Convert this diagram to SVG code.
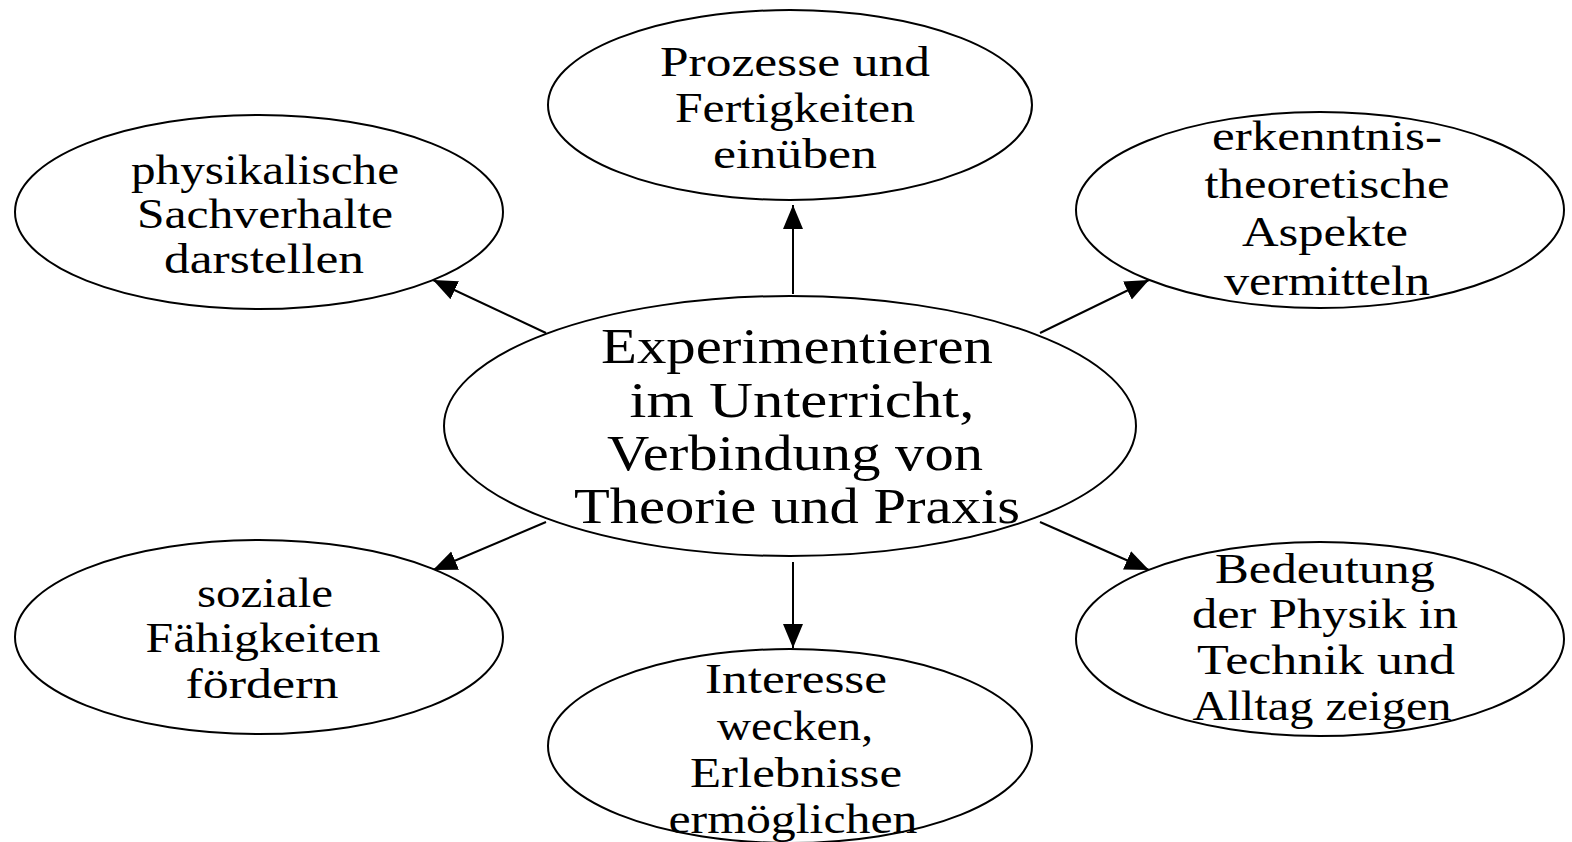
<svg xmlns="http://www.w3.org/2000/svg" width="1572" height="842" viewBox="0 0 1572 842">
<style>
.n ellipse{fill:#fff;stroke:#000;stroke-width:2}
.t{font-family:"Liberation Serif","Times New Roman",serif;font-size:42px;fill:#000;text-anchor:middle}
.c{font-size:50px}
.e line{stroke:#000;stroke-width:2;marker-end:url(#ah)}
</style>
<defs>
<marker id="ah" markerUnits="userSpaceOnUse" markerWidth="26" markerHeight="22" refX="24" refY="10" orient="auto" viewBox="0 0 26 20">
<path d="M0,0 L24,10 L0,20 Z" fill="#000"/>
</marker>
</defs>
<g id="edges" class="e">
<line x1="793" y1="294" x2="793" y2="205"/>
<line x1="546" y1="333" x2="433" y2="280"/>
<line x1="1040" y1="333" x2="1149" y2="280"/>
<line x1="546" y1="522" x2="433" y2="570"/>
<line x1="1040" y1="522" x2="1149" y2="570"/>
<line x1="793" y1="562" x2="793" y2="648"/>
</g>
<g id="n-center" class="n">
<ellipse cx="790" cy="426" rx="346" ry="130"/>
<text class="t c" x="797" y="363" textLength="392" lengthAdjust="spacingAndGlyphs">Experimentieren</text>
<text class="t c" x="802" y="417" textLength="345" lengthAdjust="spacingAndGlyphs">im Unterricht,</text>
<text class="t c" x="795" y="470" textLength="376" lengthAdjust="spacingAndGlyphs">Verbindung von</text>
<text class="t c" x="797" y="523" textLength="446" lengthAdjust="spacingAndGlyphs">Theorie und Praxis</text>
</g>
<g id="n-top" class="n">
<ellipse cx="790" cy="105" rx="242" ry="95"/>
<text class="t" x="795" y="76" textLength="270" lengthAdjust="spacingAndGlyphs">Prozesse und</text>
<text class="t" x="795" y="122" textLength="240" lengthAdjust="spacingAndGlyphs">Fertigkeiten</text>
<text class="t" x="795" y="168" textLength="164" lengthAdjust="spacingAndGlyphs">einüben</text>
</g>
<g id="n-topleft" class="n">
<ellipse cx="259" cy="212" rx="244" ry="97"/>
<text class="t" x="265" y="184" textLength="268" lengthAdjust="spacingAndGlyphs">physikalische</text>
<text class="t" x="265" y="228" textLength="256" lengthAdjust="spacingAndGlyphs">Sachverhalte</text>
<text class="t" x="264" y="273" textLength="200" lengthAdjust="spacingAndGlyphs">darstellen</text>
</g>
<g id="n-topright" class="n">
<ellipse cx="1320" cy="210" rx="244" ry="98"/>
<text class="t" x="1327" y="150" textLength="230" lengthAdjust="spacingAndGlyphs">erkenntnis-</text>
<text class="t" x="1327" y="198" textLength="245" lengthAdjust="spacingAndGlyphs">theoretische</text>
<text class="t" x="1325" y="246" textLength="166" lengthAdjust="spacingAndGlyphs">Aspekte</text>
<text class="t" x="1327" y="295" textLength="206" lengthAdjust="spacingAndGlyphs">vermitteln</text>
</g>
<g id="n-bottomleft" class="n">
<ellipse cx="259" cy="637" rx="244" ry="97"/>
<text class="t" x="265" y="607" textLength="136" lengthAdjust="spacingAndGlyphs">soziale</text>
<text class="t" x="263" y="652" textLength="235" lengthAdjust="spacingAndGlyphs">Fähigkeiten</text>
<text class="t" x="262" y="698" textLength="153" lengthAdjust="spacingAndGlyphs">fördern</text>
</g>
<g id="n-bottomright" class="n">
<ellipse cx="1320" cy="639" rx="244" ry="97"/>
<text class="t" x="1325" y="583" textLength="220" lengthAdjust="spacingAndGlyphs">Bedeutung</text>
<text class="t" x="1325" y="628" textLength="266" lengthAdjust="spacingAndGlyphs">der Physik in</text>
<text class="t" x="1326" y="674" textLength="258" lengthAdjust="spacingAndGlyphs">Technik und</text>
<text class="t" x="1322" y="720" textLength="259" lengthAdjust="spacingAndGlyphs">Alltag zeigen</text>
</g>
<g id="n-bottom" class="n">
<ellipse cx="790" cy="746" rx="242" ry="97"/>
<text class="t" x="796" y="693" textLength="182" lengthAdjust="spacingAndGlyphs">Interesse</text>
<text class="t" x="795" y="740" textLength="156" lengthAdjust="spacingAndGlyphs">wecken,</text>
<text class="t" x="796" y="787" textLength="212" lengthAdjust="spacingAndGlyphs">Erlebnisse</text>
<text class="t" x="793" y="833" textLength="249" lengthAdjust="spacingAndGlyphs">ermöglichen</text>
</g>
</svg>
